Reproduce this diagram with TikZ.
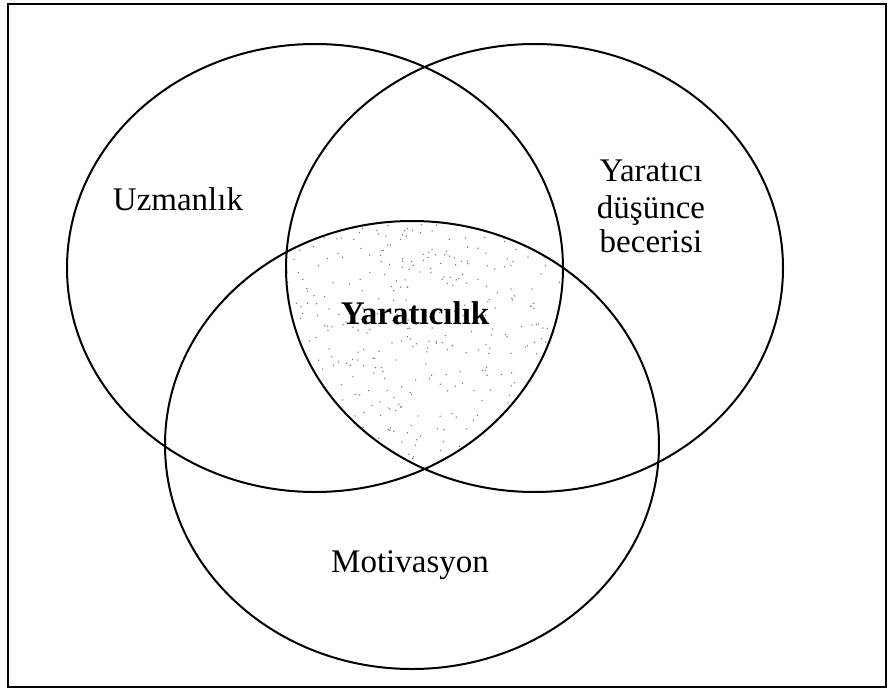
\documentclass[tikz,border=0pt]{standalone}
\usepackage{fontspec}
\setmainfont{Liberation Serif}
\begin{document}
\begin{tikzpicture}[x=1pt,y=-1pt,
  ring/.style={draw=black,line width=2pt},
  lbl/.style={anchor=base,inner sep=0pt,font=\fontsize{33}{36}\selectfont},
  blbl/.style={lbl,font=\fontsize{33}{36}\selectfont\bfseries}]
\useasboundingbox (0,0) rectangle (889,690);
\fill[white] (0,0) rectangle (889,690);
% stippled triple intersection
\begin{scope}
  \clip (315,268) ellipse [x radius=248pt, y radius=224pt];
  \clip (534.5,268) ellipse [x radius=248.5pt, y radius=224pt];
  \clip (412,445) ellipse [x radius=247pt, y radius=224pt];
  \pgfmathsetseed{7}
  \foreach \i in {1,...,480}{
    \pgfmathsetmacro\rx{286+277*rnd}
    \pgfmathsetmacro\ry{220+273*rnd}
    \fill[black!55] (\rx,\ry) circle (0.75pt);
  }
\end{scope}
% frame
\draw[line width=1.8pt] (8,4) rectangle (886,687);
% circles
\draw[ring] (315,268) ellipse [x radius=248pt, y radius=224pt];
\draw[ring] (534.5,268) ellipse [x radius=248.5pt, y radius=224pt];
\draw[ring] (412,445) ellipse [x radius=247pt, y radius=224pt];
% labels
\node[lbl] (uz) at (178,210) {Uzmanlık};
\node[lbl] (y1) at (651,182) {Yaratıcı};
\node[lbl] (y2) at (651,218) {düşünce};
\node[lbl] (y3) at (651,252) {becerisi};
\node[blbl] (yc) at (415,324) {Yaratıcılık};
\node[lbl] (mo) at (410,572) {Motivasyon};
\end{tikzpicture}
\end{document}
